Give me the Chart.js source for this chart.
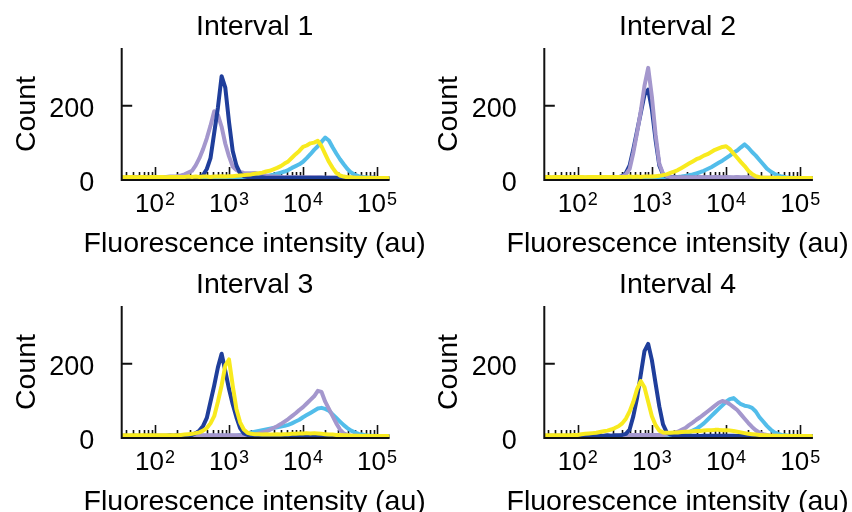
<!DOCTYPE html>
<html>
<head>
<meta charset="utf-8">
<script src="https://cdn.jsdelivr.net/npm/chart.js@4.4.1/dist/chart.umd.min.js"></script>
<style>
  html, body { margin: 0; padding: 0; background: #ffffff; }
  #wrap { position: relative; width: 852px; height: 512px; overflow: hidden; background: #ffffff; }
  #wrap canvas { position: absolute; left: 0; top: 0; }
</style>
</head>
<body>
<div id="wrap">
  <canvas id="c1" width="852" height="512"></canvas>
  <canvas id="c2" width="852" height="512"></canvas>
  <canvas id="c3" width="852" height="512"></canvas>
  <canvas id="c4" width="852" height="512"></canvas>
</div>
<script>
// Histogram bins: log10 of each bin centre runs 1.55, 1.60, ... 5.15
const LOG_START = 1.55;
const LOG_STEP = 0.05;

// Cell counts per bin
const p1Yellow = [3,2,3,3,2,3,3,2,3,3, 3,3,2,3,3,3,3,3,4,3, 4,3,4,4,3,4,4,5,4,5, 5,6,7,8,9,10,12,13,15,18, 20,24,28,33,40,46,56,66,75,86, 90,96,98,103,88,66,45,28,14,7, 4,2,2,1,1,1,0,1,0,0, 0,0,0];
const p1DarkBlue = [1,0,1,0,1,1,0,1,1,1, 1,1,0,1,1,1,1,2,1,2, 2,3,8,25,55,125,195,282,250,155, 75,35,13,5,3,2,2,1,2,1, 1,1,1,1,0,1,1,1,1,1, 1,1,0,1,1,1,0,1,1,0, 1,0,1,0,0,1,0,0,1,0, 0,0,0];
const p1Lavender = [1,1,2,1,2,2,1,2,2,3, 2,3,3,4,4,5,7,10,15,20, 35,55,80,110,145,185,175,142,95,60, 32,22,17,14,13,13,14,12,9,7, 5,4,4,3,3,3,2,3,2,2, 2,2,3,2,2,1,2,1,1,1, 1,1,0,1,0,1,0,0,1,0, 0,0,0];
const p1LightBlue = [0,0,0,0,0,0,0,0,0,0, 0,0,0,0,0,1,0,1,0,1, 1,0,1,1,1,0,1,1,1,1, 1,1,1,1,1,2,3,4,5,5, 7,9,12,15,18,22,28,33,38,45, 55,66,78,88,100,112,104,85,68,52, 38,25,15,9,5,3,2,1,1,0, 0,0,0];

const p2Yellow = [3,3,2,3,3,3,2,3,3,3, 3,2,3,3,3,3,3,3,3,3, 3,3,3,4,3,4,3,4,4,4, 5,6,8,10,14,18,22,28,34,40, 46,52,56,62,66,72,78,82,86,88, 80,68,56,44,33,20,11,5,2,1, 1,1,0,1,0,0,0,0,0,0, 0,0,0];
const p2DarkBlue = [0,1,0,1,0,1,1,0,1,1, 1,0,1,1,1,1,1,1,2,1, 2,5,14,35,80,130,180,230,245,190, 105,35,10,4,2,2,1,1,1,1, 1,1,0,1,1,0,1,1,0,1, 1,0,1,0,1,0,0,1,0,0, 0,0,0,0,0,0,0,0,0,0, 0,0,0];
const p2Lavender = [1,1,1,1,1,1,1,1,1,1, 1,1,1,1,1,1,1,1,2,2, 2,4,10,25,70,125,185,255,305,225, 120,40,12,5,3,2,2,2,2,2, 2,2,3,2,3,2,3,3,2,3, 2,2,3,2,2,2,1,2,1,1, 1,1,0,1,0,0,0,0,0,0, 0,0,0];
const p2LightBlue = [0,0,0,0,0,0,0,0,0,0, 0,0,0,0,0,0,0,0,1,0, 1,0,1,1,0,1,1,1,1,1, 1,1,1,1,1,2,3,4,6,8, 10,13,16,20,25,30,36,42,48,55, 62,70,76,85,93,84,72,62,50,38, 26,18,12,7,4,2,1,1,0,0, 0,0,0];

const p3Yellow = [2,2,2,2,2,2,2,2,2,2, 2,2,2,2,2,2,3,4,5,6, 8,10,15,22,35,55,95,140,195,212, 140,75,38,18,9,6,5,5,4,5, 4,4,5,4,5,5,6,6,7,7, 8,7,8,7,6,5,4,4,3,3, 2,2,1,1,1,0,1,0,0,0, 0,0,0];
const p3DarkBlue = [0,1,0,1,1,0,1,1,1,1, 1,1,1,2,1,2,2,2,2,3, 8,15,28,50,95,140,190,228,180,130, 88,52,22,7,3,1,1,1,1,1, 1,0,1,1,0,1,0,1,0,1, 0,1,0,0,1,0,0,0,0,0, 0,0,0,0,0,0,0,0,0,0, 0,0,0];
const p3Lavender = [0,0,0,0,0,0,0,0,0,0, 0,0,0,0,1,1,1,1,1,2, 2,2,2,2,2,2,2,2,2,2, 2,2,2,2,3,4,5,7,10,13, 17,22,27,33,40,47,55,63,72,80, 90,100,110,125,122,95,75,55,35,18, 7,3,1,1,0,0,0,0,0,0, 0,0,0];
const p3LightBlue = [0,0,0,0,0,0,0,0,0,0, 0,0,0,0,0,0,0,1,0,1, 1,1,1,1,1,1,1,1,1,1, 1,1,3,6,8,10,12,14,16,18, 20,22,24,26,28,31,35,40,45,52, 58,64,70,76,78,75,70,60,50,40, 30,22,15,10,6,4,2,1,1,0, 0,0,0];

const p4Yellow = [2,2,2,2,2,2,2,2,3,3, 5,6,7,8,9,11,13,15,18,22, 27,35,48,68,95,130,152,135,95,55, 30,15,10,9,9,10,10,11,12,12, 13,14,14,15,16,16,17,17,16,16, 15,14,12,10,8,6,5,4,3,2, 2,1,1,1,0,1,0,0,0,0, 0,0,0];
const p4DarkBlue = [0,0,1,0,1,0,1,0,1,1, 1,1,1,1,1,1,1,2,1,2, 2,3,6,18,55,105,170,235,255,210, 145,82,32,10,4,2,1,1,1,1, 1,1,0,1,1,1,1,1,1,1, 1,1,0,1,0,1,0,0,0,0, 0,0,0,0,0,0,0,0,0,0, 0,0,0];
const p4Lavender = [0,0,0,0,0,0,0,0,0,0, 0,0,0,0,0,0,0,1,1,1, 1,2,2,3,3,3,3,3,3,3, 3,3,3,4,6,9,12,17,22,30, 37,45,52,60,68,76,84,92,97,94, 88,80,72,60,48,36,25,16,9,5, 3,1,1,0,0,0,0,0,0,0, 0,0,0];
const p4LightBlue = [0,0,0,0,0,0,0,0,0,0, 0,0,0,0,0,0,0,0,0,0, 0,1,0,1,1,1,1,1,1,1, 1,1,1,1,1,1,2,4,6,10, 15,20,27,35,45,55,65,75,85,95, 102,105,96,88,84,82,78,68,52,40, 28,18,10,6,3,2,1,1,0,0, 0,0,0];

// Axis labelling
const panelTitles = ['Interval 1', 'Interval 2', 'Interval 3', 'Interval 4'];
const xDecades = [2, 3, 4, 5];        // labelled powers of ten
const yTickValues = [0, 200];
const xAxisTitle = 'Fluorescence intensity (au)';
const yAxisTitle = 'Count';

// ---- styling and layout ----
const W = 852, H = 512;
const FONT = "'Liberation Sans', Arial, Helvetica, sans-serif";
const COLORS = {
  yellow: '#f8ea1e',
  darkBlue: '#1f3e9b',
  lavender: '#a497cd',
  lightBlue: '#52bdea'
};
const X_MIN = Math.pow(10, 1.55);
const X_MAX = Math.pow(10, 5.17);
const Y_MIN = -5.5;
const Y_MAX = 360;

const binCentres = p1Yellow.map((_, i) => Math.pow(10, LOG_START + i * LOG_STEP));
const toPoints = counts => counts.map((c, i) => ({ x: binCentres[i], y: c }));

// plot rectangles for the 2x2 grid
const panelRects = [
  { left: 121.7, right: 389.6, top: 48, bottom: 180 },
  { left: 544.3, right: 812.9, top: 48, bottom: 180 },
  { left: 121.7, right: 389.6, top: 306, bottom: 438 },
  { left: 544.3, right: 812.9, top: 306, bottom: 438 }
];

// series per panel, listed from the topmost line down
const panelSeries = [
  [['yellow', p1Yellow], ['darkBlue', p1DarkBlue], ['lavender', p1Lavender], ['lightBlue', p1LightBlue]],
  [['yellow', p2Yellow], ['lavender', p2Lavender], ['darkBlue', p2DarkBlue], ['lightBlue', p2LightBlue]],
  [['yellow', p3Yellow], ['darkBlue', p3DarkBlue], ['lavender', p3Lavender], ['lightBlue', p3LightBlue]],
  [['yellow', p4Yellow], ['darkBlue', p4DarkBlue], ['lavender', p4Lavender], ['lightBlue', p4LightBlue]]
];

// Frame, ticks and text of one histogram panel
function makeFramePlugin(title) {
  return {
    id: 'histFrame',
    beforeDatasetsDraw(chart) {
      const { ctx, chartArea: a, scales: { x } } = chart;
      ctx.save();
      ctx.strokeStyle = '#111';
      ctx.lineWidth = 1.6;
      ctx.beginPath();
      for (let n = 1; n <= 5; n++) {
        for (let k = 1; k <= 9; k++) {
          const v = k * Math.pow(10, n);
          if (v < X_MIN || v > 100000.5) continue;
          const px = Math.round(x.getPixelForValue(v)) + 0.5;
          const len = k === 1 ? 13 : 8;
          ctx.moveTo(px, a.bottom);
          ctx.lineTo(px, a.bottom - len);
        }
      }
      ctx.stroke();
      ctx.restore();
    },
    afterDatasetsDraw(chart) {
      const { ctx, chartArea: a, scales: { x, y } } = chart;
      ctx.save();
      ctx.strokeStyle = '#111';
      ctx.lineWidth = 2;
      ctx.lineCap = 'butt';
      ctx.beginPath();
      // y axis
      ctx.moveTo(a.left, a.top);
      ctx.lineTo(a.left, a.bottom + 1);
      // x axis
      ctx.moveTo(a.left - 1, a.bottom);
      ctx.lineTo(a.right, a.bottom);
      // inward tick at 200
      const p200 = y.getPixelForValue(200);
      ctx.moveTo(a.left, p200);
      ctx.lineTo(a.left + 10.5, p200);
      ctx.stroke();

      ctx.fillStyle = '#000';
      // y tick labels
      ctx.font = '27px ' + FONT;
      ctx.textAlign = 'right';
      ctx.textBaseline = 'alphabetic';
      yTickValues.forEach(v => {
        const py = v === 0 ? a.bottom : y.getPixelForValue(v);
        ctx.fillText(String(v), a.left - 27.5, py + 11);
      });

      // x tick labels: 10 with a raised exponent
      xDecades.forEach(n => {
        const px = x.getPixelForValue(Math.pow(10, n));
        ctx.font = '26px ' + FONT;
        const wBase = ctx.measureText('10').width;
        ctx.font = '18px ' + FONT;
        const wExp = ctx.measureText(String(n)).width;
        const start = px - (wBase + wExp + 1) / 2;
        ctx.textAlign = 'left';
        ctx.font = '26px ' + FONT;
        ctx.fillText('10', start, a.bottom + 32);
        ctx.font = '18px ' + FONT;
        ctx.fillText(String(n), start + wBase + 1, a.bottom + 25);
      });

      // panel title and axis titles
      ctx.font = '28.5px ' + FONT;
      ctx.textAlign = 'center';
      const cx = (a.left + a.right) / 2 - 1;
      ctx.fillText(title, cx, a.top - 13);
      ctx.fillText(xAxisTitle, cx, a.bottom + 72);

      ctx.translate(a.left - 87, (a.top + a.bottom) / 2);
      ctx.rotate(-Math.PI / 2);
      ctx.fillText(yAxisTitle, 0, 0);
      ctx.restore();
    }
  };
}

panelRects.forEach((r, i) => {
  const datasets = panelSeries[i].map(([key, counts]) => ({
    label: key,
    data: toPoints(counts),
    borderColor: COLORS[key],
    backgroundColor: COLORS[key],
    borderWidth: 4,
    borderJoinStyle: 'round',
    borderCapStyle: 'round',
    pointRadius: 0,
    tension: 0,
    fill: false
  }));
  new Chart(document.getElementById('c' + (i + 1)), {
    type: 'line',
    data: { datasets },
    options: {
      responsive: false,
      animation: false,
      devicePixelRatio: 1,
      events: [],
      layout: {
        padding: { left: r.left, top: r.top, right: W - r.right, bottom: H - r.bottom }
      },
      plugins: { legend: { display: false }, tooltip: { enabled: false }, title: { display: false } },
      scales: {
        x: { type: 'logarithmic', display: false, min: X_MIN, max: X_MAX, bounds: 'data' },
        y: { type: 'linear', display: false, min: Y_MIN, max: Y_MAX, bounds: 'data' }
      }
    },
    plugins: [makeFramePlugin(panelTitles[i])]
  });
});
</script>
</body>
</html>
